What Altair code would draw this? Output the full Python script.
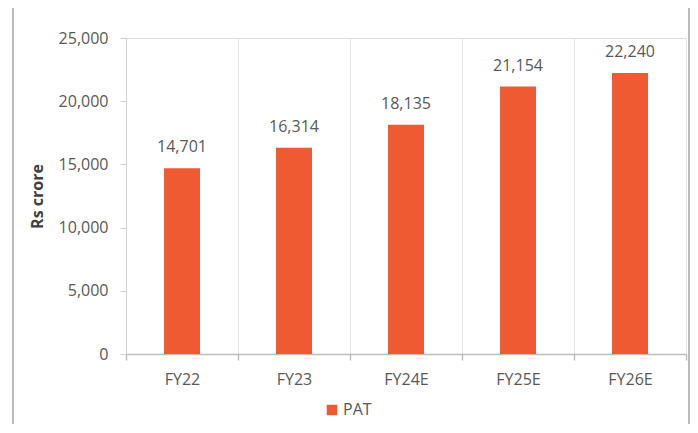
import altair as alt
import pandas as pd

years = ["FY22", "FY23", "FY24E", "FY25E", "FY26E"]
pat = [14701, 16314, 18135, 21154, 22240]
series = ["PAT"] * len(years)

df = pd.DataFrame({"year": years, "pat": pat, "series": series})

FONT = "Open Sans"
TXT = "#595959"
BAR = "#F05A32"
FS = 16

W, H = 560, 316
PL, PT, PR, PB = 118, 30, 4, 70

x = alt.X("year:N", sort=years, title=None,
          scale=alt.Scale(paddingInner=0, paddingOuter=0),
          axis=alt.Axis(labelAngle=0, labelFont=FONT, labelFontSize=FS, labelColor=TXT,
                        labelPadding=11, domainColor="#BFBFBF", domainWidth=1.5,
                        tickColor="#BFBFBF", tickSize=6, tickBand="extent", tickWidth=1.5,
                        grid=True, gridColor="#E6E6E6", gridWidth=1))
y = alt.Y("pat:Q", title="Rs crore",
          scale=alt.Scale(domain=[0, 25000]),
          axis=alt.Axis(values=[0, 5000, 10000, 15000, 20000, 25000], format=",.0f",
                        labelFont=FONT, labelFontSize=FS, labelColor=TXT, labelPadding=12,
                        titleFont=FONT, titleFontSize=16, titleFontWeight="bold", titleColor="#404040",
                        titlePadding=13,
                        domainColor="#D0D0D0", tickColor="#D0D0D0", tickSize=6, grid=False))

bars = alt.Chart(df).mark_bar(size=36, color=BAR).encode(
    x=x, y=y,
    color=alt.Color("series:N", scale=alt.Scale(range=[BAR]),
                    legend=alt.Legend(title=None, orient="none", legendX=198, legendY=364,
                                      symbolType="square", symbolSize=110, symbolStrokeWidth=0,
                                      labelFont=FONT, labelFontSize=FS, labelColor=TXT,
                                      labelOffset=3))
)

labels = alt.Chart(df).mark_text(dy=-16, baseline="alphabetic", font=FONT, fontSize=FS,
                                 color=TXT).encode(
    x=x, y=y, text=alt.Text("pat:Q", format=",.0f")
)

border = alt.Chart(pd.DataFrame({"k": [0]})).mark_rect(
    fill=None, stroke="#A6A6A6", strokeWidth=1.5
).encode(
    x=alt.value(13 - 126), x2=alt.value(563),
    y=alt.value(7 - 38), y2=alt.value(H + 120)
)

chart = alt.layer(border, bars, labels).properties(
    width=W, height=H,
    padding={"left": PL, "top": PT, "right": PR, "bottom": PB},
    autosize=alt.AutoSizeParams(type="none")
).configure_view(stroke=None).configure(background="white")

chart.save("out.html", embed_options={"renderer": "svg", "actions": False})
